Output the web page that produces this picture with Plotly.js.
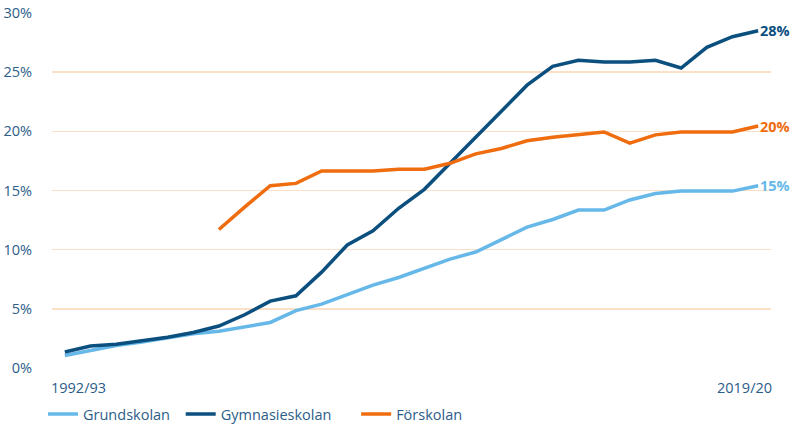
<!DOCTYPE html>
<html>
<head>
<meta charset="utf-8">
<script src="https://cdn.plot.ly/plotly-3.0.1.min.js"></script>
<style>html,body{margin:0;padding:0;background:#fff;}#chart{width:797px;height:425px;}</style>
</head>
<body>
<div id="chart"></div>
<script>
const years = ["1992/93","1993/94","1994/95","1995/96","1996/97","1997/98","1998/99","1999/00","2000/01","2001/02","2002/03","2003/04","2004/05","2005/06","2006/07","2007/08","2008/09","2009/10","2010/11","2011/12","2012/13","2013/14","2014/15","2015/16","2016/17","2017/18","2018/19","2019/20"];
const grundskolan = [1.05,1.5,1.9,2.2,2.55,2.9,3.1,3.45,3.85,4.85,5.4,6.2,7.0,7.65,8.4,9.2,9.8,10.85,11.9,12.55,13.35,13.35,14.2,14.75,14.95,14.95,14.95,15.4];
const gymnasieskolan = [1.35,1.86,2.0,2.3,2.6,3.0,3.55,4.5,5.65,6.1,8.1,10.4,11.6,13.5,15.1,17.3,19.5,21.6,23.9,25.5,26.0,25.85,25.85,26.0,25.35,27.1,28.0,28.5];
const forskolan = [null,null,null,null,null,null,11.7,13.6,15.4,15.6,16.65,16.65,16.65,16.8,16.8,17.3,18.1,18.55,19.2,19.5,19.7,19.95,19.0,19.7,19.95,19.95,19.95,20.45];
const seriesNames = ["Grundskolan","Gymnasieskolan","Förskolan"];
const endLabels = ["15%","28%","20%"];
const xTickLabels = ["1992/93","2019/20"];
const yTickVals = [0,5,10,15,20,25,30];
const yTickText = ["0%","5%","10%","15%","20%","25%","30%"];
const colors = ["#66b8e9","#0b4f7f","#ef6c0f"];

const xi = years.map((_, i) => i);
const seriesData = [grundskolan, gymnasieskolan, forskolan];
const legendIds = ["legend","legend2","legend3"];
const traces = seriesData.map((d, k) => ({
  x: xi, y: d, type: "scatter", mode: "lines", name: seriesNames[k],
  line: {color: colors[k], width: 3.5}, connectgaps: false, hoverinfo: "skip",
  legend: legendIds[k]
}));

const annotations = seriesData.map((d, k) => ({
  x: xi.length - 1, y: d[d.length - 1], xref: "x", yref: "y",
  text: "<b>" + endLabels[k] + "</b>", showarrow: false, xanchor: "left", yanchor: "middle",
  xshift: 0, font: {family: "Open Sans", size: 14.5, color: colors[k]}
}));
annotations.push({x: 0, y: 0, xref: "paper", yref: "y", text: xTickLabels[0], showarrow: false,
  xanchor: "left", yanchor: "top", yshift: -8, xshift: -3, font: {family: "Open Sans", size: 14.5, color: "#2c5d89"}});
annotations.push({x: 1, y: 0, xref: "paper", yref: "y", text: xTickLabels[1], showarrow: false,
  xanchor: "right", yanchor: "top", yshift: -8, xshift: 3, font: {family: "Open Sans", size: 14.5, color: "#2c5d89"}});

const legendFont = {family: "Open Sans", size: 14.5, color: "#2c5d89"};
const mkLegend = (x) => ({orientation: "h", x: x, xanchor: "left", y: -0.085, yanchor: "top",
  font: legendFont, itemwidth: 30, bgcolor: "rgba(0,0,0,0)"});

const layout = {
  width: 797, height: 425,
  margin: {l: 52, r: 26, t: 13, b: 57, autoexpand: false},
  paper_bgcolor: "#fff", plot_bgcolor: "#fff",
  font: {family: "Open Sans", size: 14.5, color: "#2c5d89"},
  xaxis: {range: [-0.5, 27.5], showgrid: false, zeroline: false, showticklabels: false, showline: false, fixedrange: true},
  yaxis: {range: [0, 30], tickvals: yTickVals, ticktext: yTickText, showgrid: true, gridcolor: "#fbdfc7", gridwidth: 1.5,
    zeroline: false, showline: false, ticks: "outside", ticklen: 16, tickcolor: "rgba(0,0,0,0)",
    tickfont: {family: "Open Sans", size: 14.5, color: "#2c5d89"}, fixedrange: true},
  showlegend: true,
  legend: mkLegend(-0.0125),
  legend2: mkLegend(0.179),
  legend3: mkLegend(0.423),
  annotations: annotations
};
Plotly.newPlot("chart", traces, layout, {displayModeBar: false, staticPlot: true});
</script>
</body>
</html>
